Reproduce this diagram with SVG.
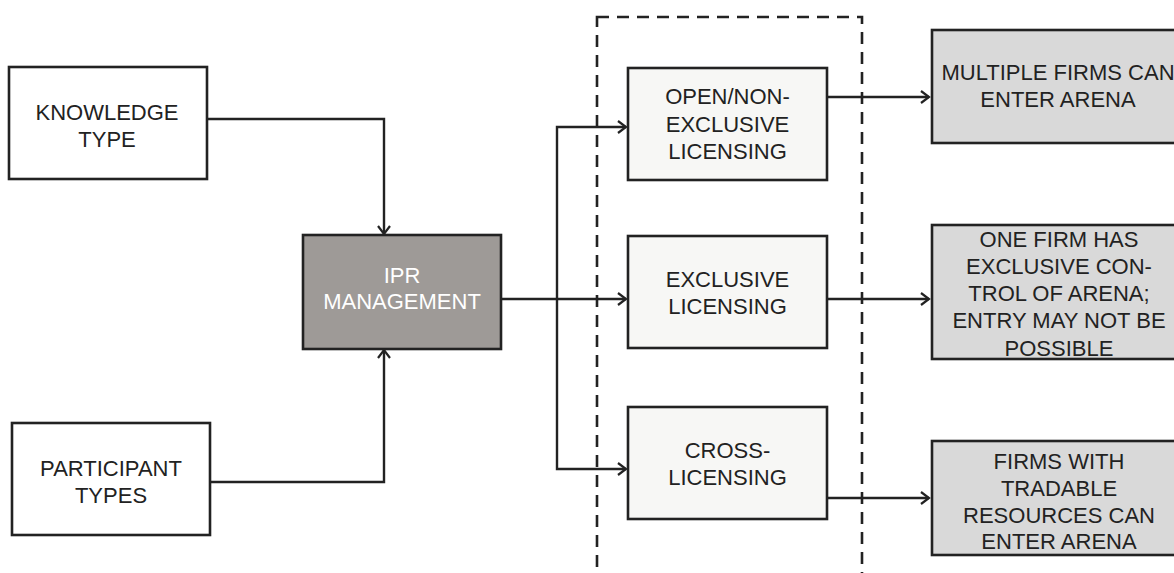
<svg xmlns="http://www.w3.org/2000/svg" width="1174" height="573" viewBox="0 0 1174 573">
<style>
.box{stroke:#222;stroke-width:2.6}
.w{fill:#ffffff}
.l{fill:#f7f7f5}
.o{fill:#d9d9d9}
.d{fill:#9e9a97}
text{font-family:"Liberation Sans",Arial,sans-serif;font-size:22px;fill:#222;text-anchor:middle}
.wt{fill:#ffffff}
.c{fill:none;stroke:#222;stroke-width:2.4}
</style>
<defs>
<marker id="ah" markerUnits="userSpaceOnUse" markerWidth="14" markerHeight="16" refX="10" refY="7" orient="auto">
<path d="M2,1 L10,7 L2,13" fill="none" stroke="#222" stroke-width="2.2"/>
</marker>
</defs>
<rect x="597" y="17" width="265" height="570" fill="none" stroke="#222" stroke-width="2.6" stroke-dasharray="12,8"/>
<g id="connectors">
<path class="c" d="M207,119 H384 V234" marker-end="url(#ah)"/>
<path class="c" d="M210,482 H384 V350" marker-end="url(#ah)"/>
<path class="c" d="M501,299 H626" marker-end="url(#ah)"/>
<path class="c" d="M557,299 V127 H626" marker-end="url(#ah)"/>
<path class="c" d="M557,299 V469 H626" marker-end="url(#ah)"/>
<path class="c" d="M827,97 H929" marker-end="url(#ah)"/>
<path class="c" d="M827,299 H929" marker-end="url(#ah)"/>
<path class="c" d="M827,498 H929" marker-end="url(#ah)"/>
</g>
<g id="knowledge">
<rect class="box w" x="9" y="67" width="198" height="112"/>
<text x="107" y="120">KNOWLEDGE</text>
<text x="107" y="147">TYPE</text>
</g>
<g id="participant">
<rect class="box w" x="12" y="423" width="198" height="112"/>
<text x="111" y="476">PARTICIPANT</text>
<text x="111" y="503">TYPES</text>
</g>
<g id="ipr">
<rect class="box d" x="303" y="235" width="198" height="114"/>
<text class="wt" x="402" y="283">IPR</text>
<text class="wt" x="402" y="309">MANAGEMENT</text>
</g>
<g id="open">
<rect class="box l" x="628" y="68" width="199" height="112"/>
<text x="727.5" y="104">OPEN/NON-</text>
<text x="727.5" y="132">EXCLUSIVE</text>
<text x="727.5" y="159">LICENSING</text>
</g>
<g id="exclusive">
<rect class="box l" x="628" y="236" width="199" height="112"/>
<text x="727.5" y="287">EXCLUSIVE</text>
<text x="727.5" y="314">LICENSING</text>
</g>
<g id="cross">
<rect class="box l" x="628" y="407" width="199" height="112"/>
<text x="727.5" y="458">CROSS-</text>
<text x="727.5" y="485">LICENSING</text>
</g>
<g id="multiple">
<rect class="box o" x="932" y="30" width="252" height="113"/>
<text x="1058" y="80">MULTIPLE FIRMS CAN</text>
<text x="1058" y="107">ENTER ARENA</text>
</g>
<g id="onefirm">
<rect class="box o" x="932" y="225" width="252" height="134"/>
<text x="1059" y="247">ONE FIRM HAS</text>
<text x="1059" y="274">EXCLUSIVE CON-</text>
<text x="1059" y="301">TROL OF ARENA;</text>
<text x="1059" y="328">ENTRY MAY NOT BE</text>
<text x="1059" y="356">POSSIBLE</text>
</g>
<g id="firmswith">
<rect class="box o" x="932" y="441" width="252" height="114"/>
<text x="1059" y="469">FIRMS WITH</text>
<text x="1059" y="496">TRADABLE</text>
<text x="1059" y="523">RESOURCES CAN</text>
<text x="1059" y="549">ENTER ARENA</text>
</g>
</svg>
